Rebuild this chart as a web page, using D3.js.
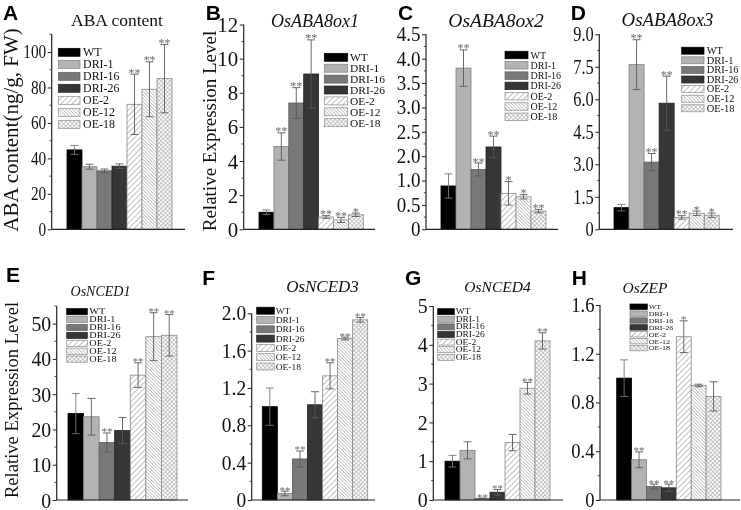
<!DOCTYPE html>
<html><head><meta charset="utf-8">
<script src="https://cdn.jsdelivr.net/npm/d3@7"></script>
<style>body{margin:0;background:#fff}svg{display:block;filter:grayscale(100%)}</style>
</head><body>
<svg id="chart" width="741" height="510"></svg>
<script>
// ---------- data ----------
const groups = ["WT","DRI-1","DRI-16","DRI-26","OE-2","OE-12","OE-18"];

const aMean = [44.8, 35.3, 33.0, 35.6, 70.5, 79.0, 85.0];
const aErr  = [2.5, 1.4, 1.0, 1.3, 17.0, 15.5, 19.3];
const aSig  = ["","","","","**","**","**"];
const aTicks = [0,20,40,60,80,100];
const aLabels = ["0","20","40","60","80","100"];

const bMean = [1.0, 4.85, 7.4, 9.1, 0.72, 0.55, 0.85];
const bErr  = [0.13, 0.8, 0.9, 2.0, 0.08, 0.15, 0.1];
const bSig  = ["","**","**","**","**","**","*"];
const bTicks = [0,2,4,6,8,10,12];
const bLabels = ["0","2","4","6","8","10","12"];

const cMean = [1.0, 3.72, 1.38, 1.9, 0.83, 0.75, 0.42];
const cErr  = [0.28, 0.42, 0.15, 0.25, 0.27, 0.05, 0.04];
const cSig  = ["","**","**","**","*","*","**"];
// the printed axis shows nine evenly spaced labels over 0-4.5
const cTicks = [0,0.5625,1.125,1.6875,2.25,2.8125,3.375,3.9375,4.5];
const cLabels = ["0","0.5","1.0","2.0","2.5","3.0","3.5","4.0","4.5"];

const dMean = [1.0, 7.6, 3.1, 5.82, 0.55, 0.74, 0.65];
const dErr  = [0.15, 1.15, 0.4, 1.25, 0.08, 0.1, 0.1];
const dSig  = ["","**","**","**","**","*","*"];
const dTicks = [0,1.5,3.0,4.5,6.0,7.5,9.0];
const dLabels = ["0","1.5","3.0","4.5","6.0","7.5","9.0"];

const eMean = [24.5, 23.6, 16.3, 19.7, 35.4, 46.3, 46.7];
const eErr  = [5.7, 5.2, 2.7, 3.7, 3.5, 6.8, 5.9];
const eSig  = ["","","**","","**","**","**"];
const eTicks = [0,10,20,30,40,50];
const eLabels = ["0","10","20","30","40","50"];

const fMean = [1.0, 0.07, 0.44, 1.02, 1.33, 1.73, 1.93];
const fErr  = [0.2, 0.025, 0.085, 0.14, 0.14, 0.015, 0.025];
const fSig  = ["","**","**","","**","**","**"];
const fTicks = [0,0.4,0.8,1.2,1.6,2.0];
const fLabels = ["0","0.4","0.8","1.2","1.6","2.0"];

const gMean = [1.0, 1.28, 0.04, 0.2, 1.48, 2.88, 4.1];
const gErr  = [0.15, 0.22, 0.01, 0.07, 0.21, 0.15, 0.21];
const gSig  = ["","","**","**","","**","**"];
const gTicks = [0,1,2,3,4,5];
const gLabels = ["0","1","2","3","4","5"];

const hMean = [1.0, 0.33, 0.11, 0.1, 1.34, 0.94, 0.85];
const hErr  = [0.15, 0.065, 0.02, 0.03, 0.13, 0.01, 0.12];
const hSig  = ["","**","**","**","*","",""];
const hTicks = [0,0.4,0.8,1.2,1.6];
const hLabels = ["0","0.4","0.8","1.2","1.6"];

const panelLetters = ["A","B","C","D","E","F","G","H"];
const panelTitles = ["ABA content","OsABA8ox1","OsABA8ox2","OsABA8ox3","OsNCED1","OsNCED3","OsNCED4","OsZEP"];
const yTitles = ["ABA content(ng/g, FW)","Relative Expression Level","","","Relative Expression Level","","",""];

// ---------- styles ----------
const fills = ["#000","#b3b3b3","#787878","#363636","url(#pOE2)","url(#pOE12)","url(#pOE18)"];
const strokes = ["#000","#808080","#5e5e5e","#222","#8a8a8a","#8a8a8a","#8a8a8a"];

const svg = d3.select("#chart");
const defs = svg.append("defs");
function linePattern(id, size, angle, sw, col){
  const p = defs.append("pattern").attr("id", id).attr("patternUnits","userSpaceOnUse")
    .attr("width", size).attr("height", size).attr("patternTransform", `rotate(${angle})`);
  p.append("rect").attr("width", size).attr("height", size).attr("fill","#fff");
  p.append("line").attr("x1",0).attr("y1",0).attr("x2",0).attr("y2",size)
    .attr("stroke", col).attr("stroke-width", sw);
}
linePattern("pOE2", 4, 45, 1.1, "#8c8c8c");
linePattern("pOE12", 2.4, -45, 1.0, "#8f8f8f");
{
  const p = defs.append("pattern").attr("id","pOE18").attr("patternUnits","userSpaceOnUse")
    .attr("width",3).attr("height",3).attr("patternTransform","rotate(45)");
  p.append("rect").attr("width",3).attr("height",3).attr("fill","#fff");
  p.append("path").attr("d","M0,0V3M0,0H3").attr("stroke","#999").attr("stroke-width",1.1);
}

// ---------- layout (positions only) ----------
const L = [
 {mean:aMean, err:aErr, sig:aSig, ticks:aTicks, labels:aLabels, ymax:110, minor:d3.range(10,111,20),
  ax:51.7, xEnd:185, y0:229.3, y1:34.3, bars:[67,172], tf:18, tsx:0.85,
  letter:[3,20], title:[117,26,17.5,false], yt:[18,130,21],
  leg:{x:58.3,y:52.3,w:21.7,h:8,dy:12,fs:11.5,sx:1.04,tx:83}, sf:12},
 {mean:bMean, err:bErr, sig:bSig, ticks:bTicks, labels:bLabels, ymax:12, minor:d3.range(1,12,2),
  ax:243.7, xEnd:375, y0:229.3, y1:24.5, bars:[259,363.3], tf:22, tsx:0.95,
  letter:[205.7,20], title:[315,26.5,18,true], yt:[215.5,131,19],
  leg:{x:324.3,y:57.3,w:23.4,h:8,dy:10.9,fs:11,sx:1.04,tx:350}, sf:12},
 {mean:cMean, err:cErr, sig:cSig, ticks:cTicks, labels:cLabels, ymax:4.5, minor:d3.range(8).map(i => (i+0.5)*4.5/8),
  ax:426, xEnd:558, y0:229.3, y1:34.3, bars:[441,546], tf:20, tsx:0.95,
  letter:[398,20], title:[496,26.5,19.5,true], yt:null,
  leg:{x:505,y:55,w:23,h:7.5,dy:10.3,fs:10,sx:1,tx:530.5}, sf:12},
 {mean:dMean, err:dErr, sig:dSig, ticks:dTicks, labels:dLabels, ymax:9, minor:d3.range(0.75,9,1.5),
  ax:599.3, xEnd:733, y0:229.3, y1:34.3, bars:[614,719.3], tf:20, tsx:0.82,
  letter:[570.7,20], title:[667.5,26,18.8,true], yt:null,
  leg:{x:681.7,y:50.7,w:22.3,h:7,dy:9.6,fs:9.5,sx:1.1,tx:706.7}, sf:12},
 {mean:eMean, err:eErr, sig:eSig, ticks:eTicks, labels:eLabels, ymax:55, minor:d3.range(5,56,10),
  ax:56.7, xEnd:188, y0:500, y1:306, bars:[68,177], tf:22, tsx:0.9,
  letter:[6,282], title:[100.5,296,14,true], yt:[17.5,400,18.6],
  leg:{x:66.7,y:311.7,w:20.6,h:6.2,dy:7.9,fs:7.6,sx:1.35,tx:89.3}, sf:11},
 {mean:fMean, err:fErr, sig:fSig, ticks:fTicks, labels:fLabels, ymax:2, minor:d3.range(0.2,2,0.4),
  ax:251.7, xEnd:375, y0:500, y1:313.3, bars:[262.3,367.7], tf:20.5, tsx:0.95,
  letter:[202.3,285], title:[322.5,291.5,17,true], yt:null,
  leg:{x:256.7,y:310.7,w:17.6,h:7,dy:9.3,fs:8.6,sx:1.1,tx:275.7}, sf:11},
 {mean:gMean, err:gErr, sig:gSig, ticks:gTicks, labels:gLabels, ymax:5, minor:d3.range(0.5,5,1),
  ax:433.3, xEnd:563, y0:500, y1:306, bars:[445,550], tf:21, tsx:0.95,
  letter:[405,285], title:[497.5,291.7,15.5,true], yt:null,
  leg:{x:437.7,y:311.7,w:16.6,h:6,dy:7.6,fs:7.3,sx:1.3,tx:455.7}, sf:11},
 {mean:hMean, err:hErr, sig:hSig, ticks:hTicks, labels:hLabels, ymax:1.6, minor:d3.range(0.2,1.6,0.4),
  ax:600, xEnd:740, y0:500, y1:305, bars:[616.7,721], tf:20, tsx:0.93,
  letter:[571.7,285], title:[645,293,15.5,true], yt:null,
  leg:{x:630,y:306.7,w:17.3,h:5.4,dy:6.9,fs:6.7,sx:1.2,tx:648.7}, sf:11}
];

const serif = "'Liberation Serif','Times New Roman',serif";

L.forEach((p, k) => {
  const g = svg.append("g");
  const x = d3.scaleBand().domain(groups).range(p.bars).padding(0);
  const y = d3.scaleLinear().domain([0, p.ymax]).range([p.y0, p.y1]);
  const bw = x.bandwidth();

  // bars
  g.selectAll("rect.bar").data(groups).join("rect").attr("class","bar")
    .attr("x", d => x(d)).attr("width", bw)
    .attr("y", (d,i) => y(p.mean[i])).attr("height", (d,i) => y(0) - y(p.mean[i]))
    .attr("fill", (d,i) => fills[i]).attr("stroke", (d,i) => strokes[i]).attr("stroke-width", 0.8);

  // error bars and significance marks
  const cap = 4;
  const sg = g.append("g");
  groups.forEach((d,i) => {
    const cx = x(d) + bw/2;
    const top = y(p.mean[i] + p.err[i]), bot = y(Math.max(0, p.mean[i] - p.err[i]));
    const eg = g.append("g").attr("stroke", i === 0 ? "#777" : "#5a5a5a").attr("stroke-width", 0.9);
    eg.append("line").attr("x1",cx).attr("x2",cx).attr("y1",top).attr("y2",bot);
    eg.append("line").attr("x1",cx-cap).attr("x2",cx+cap).attr("y1",top).attr("y2",top);
    eg.append("line").attr("x1",cx-cap).attr("x2",cx+cap).attr("y1",bot).attr("y2",bot);
    if (p.sig[i]) {
      sg.append("text").attr("x", cx).attr("y", top + 2.5)
        .attr("text-anchor","middle").attr("font-family", serif)
        .attr("font-size", p.sf).attr("fill","#6a6a6a").text(p.sig[i]);
    }
  });

  // axes
  const axis = d3.axisLeft(y).tickValues(p.ticks).tickFormat((d,i) => p.labels[i])
    .tickSize(4).tickPadding(1.5);
  const ag = g.append("g").attr("transform", `translate(${p.ax},0)`).call(axis);
  ag.select(".domain").remove();
  ag.selectAll(".tick line").attr("stroke","#222");
  ag.selectAll(".tick text").attr("font-family", serif).attr("font-size", p.tf).attr("fill","#111")
    .attr("transform", function(){ const tx = +this.getAttribute("x"); return `translate(${tx*(1-p.tsx)},0) scale(${p.tsx},1)`; });
  g.selectAll("line.minor").data(p.minor).join("line").attr("class","minor")
    .attr("x1", p.ax - 2.2).attr("x2", p.ax).attr("y1", d => y(d)).attr("y2", d => y(d))
    .attr("stroke","#222").attr("stroke-width",0.8);
  g.append("line").attr("x1",p.ax).attr("x2",p.ax).attr("y1",y(p.ymax)).attr("y2",y(0))
    .attr("stroke","#222").attr("stroke-width",1.2);
  g.append("line").attr("x1",p.ax).attr("x2",p.xEnd).attr("y1",y(0)).attr("y2",y(0))
    .attr("stroke","#222").attr("stroke-width",1.2);

  // legend
  const lg = g.append("g");
  groups.forEach((d,i) => {
    const cy = p.leg.y + i * p.leg.dy;
    lg.append("rect").attr("x", p.leg.x).attr("y", cy - p.leg.h/2).attr("width", p.leg.w).attr("height", p.leg.h)
      .attr("fill", fills[i]).attr("stroke", strokes[i]).attr("stroke-width", 0.7);
    lg.append("text").attr("x", 0).attr("y", 0).attr("dy","0.35em")
      .attr("transform", `translate(${p.leg.tx},${cy}) scale(${p.leg.sx},1)`)
      .attr("font-family", serif).attr("font-size", p.leg.fs).attr("fill","#111").text(d);
  });

  // title, letter, y title
  g.append("text").attr("x", p.title[0]).attr("y", p.title[1]).attr("text-anchor","middle")
    .attr("font-family", serif).attr("font-size", p.title[2]).attr("font-style", p.title[3] ? "italic" : "normal")
    .attr("fill","#111").text(panelTitles[k]);
  g.append("text").attr("x", p.letter[0]).attr("y", p.letter[1])
    .attr("font-family","'Liberation Sans',Arial,sans-serif").attr("font-weight","bold").attr("font-size",21)
    .attr("fill","#000").text(panelLetters[k]);
  if (p.yt) {
    g.append("text").attr("transform", `translate(${p.yt[0]},${p.yt[1]}) rotate(-90)`)
      .attr("text-anchor","middle").attr("font-family", serif).attr("font-size", p.yt[2])
      .attr("fill","#111").text(yTitles[k]);
  }
});
</script>
</body></html>
